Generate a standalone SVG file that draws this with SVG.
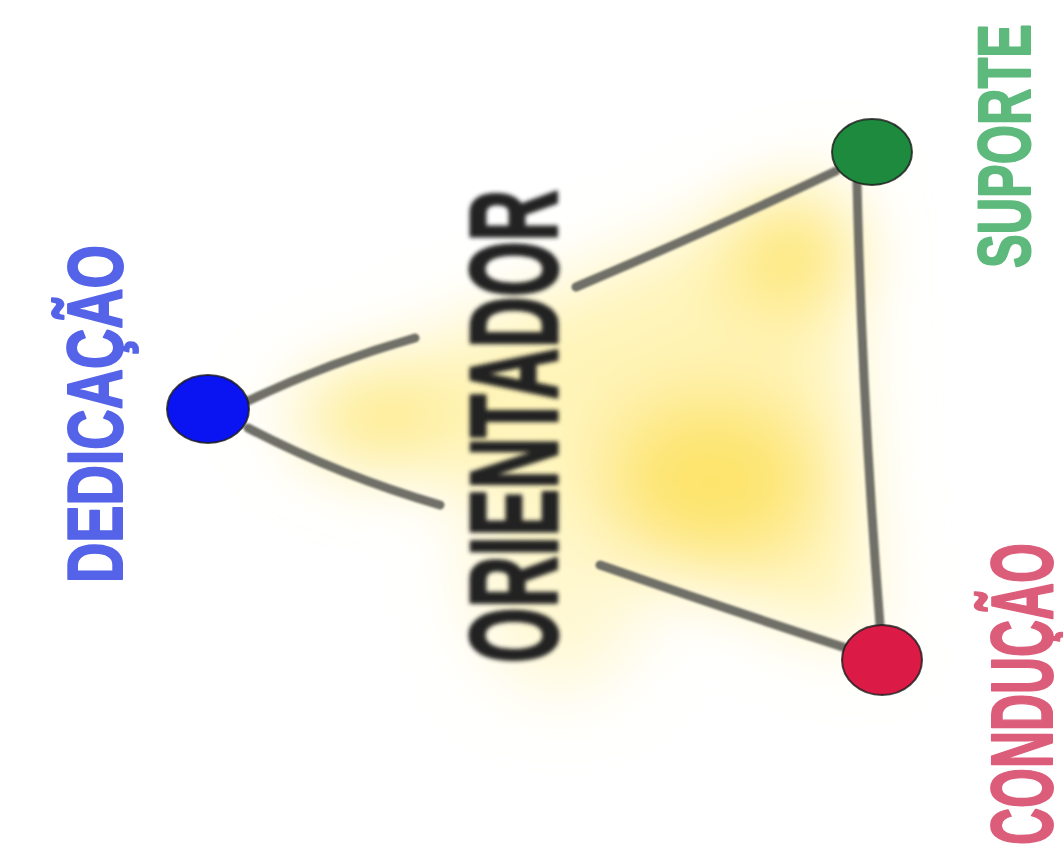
<svg xmlns="http://www.w3.org/2000/svg" width="1063" height="850" viewBox="0 0 1063 850">
  <defs>
    <filter id="glow" x="-50%" y="-50%" width="200%" height="200%">
      <feGaussianBlur stdDeviation="38"/>
    </filter>
    <filter id="soft" x="-30%" y="-30%" width="160%" height="160%">
      <feGaussianBlur stdDeviation="2.2"/>
    </filter>
    <filter id="lineSoft" x="-10%" y="-10%" width="120%" height="120%">
      <feGaussianBlur stdDeviation="0.8"/>
    </filter>
  </defs>
  <style>
    .edge { fill: none; stroke: #6f6f68; stroke-width: 9; stroke-linecap: round; }
    .lbl { font-family: "Liberation Sans", "DejaVu Sans", sans-serif; font-weight: bold; stroke-linejoin: round; stroke-linecap: round; }
    .node { stroke: #1a1a1a; stroke-width: 2; stroke-opacity: 0.8; }
  </style>
  <rect width="1063" height="850" fill="#ffffff"/>

  <g id="glow-area" filter="url(#glow)">
    <polygon points="270,410 840,175 870,650" fill="#fff3b0" opacity="0.9"/>
    <ellipse cx="560" cy="560" rx="90" ry="130" fill="#fff6c4" opacity="0.8"/>
    <ellipse cx="790" cy="255" rx="65" ry="55" fill="#fde468" opacity="0.9"/>
    <ellipse cx="710" cy="480" rx="110" ry="85" fill="#fde25e" opacity="0.85"/>
    <ellipse cx="375" cy="420" rx="70" ry="45" fill="#fde670" opacity="0.8"/>
  </g>

  <g id="connectors" filter="url(#lineSoft)">
    <path class="edge" d="M 248 401 Q 330 362 415 338"/>
    <path class="edge" d="M 576 287 Q 720 226 836 171"/>
    <path class="edge" d="M 248 428 Q 340 476 440 505"/>
    <path class="edge" d="M 600 565 Q 730 610 846 648"/>
    <path class="edge" d="M 857 183 Q 862 400 880 625"/>
  </g>

  <g id="node-dedicacao">
    <ellipse class="node" cx="208" cy="409" rx="41" ry="34" fill="#0a14f2"/>
    <text class="lbl" transform="translate(122,583) rotate(-90)" font-size="77" fill="#5463e8" stroke="#5463e8" stroke-width="2" textLength="338" lengthAdjust="spacingAndGlyphs">DEDICAÇÃO</text>
  </g>

  <g id="node-suporte">
    <ellipse class="node" cx="872" cy="152" rx="40" ry="33" fill="#1e8a3e"/>
    <text class="lbl" transform="translate(1030,268) rotate(-90)" font-size="74" fill="#5db97c" stroke="#5db97c" stroke-width="2" textLength="244" lengthAdjust="spacingAndGlyphs">SUPORTE</text>
  </g>

  <g id="node-conducao">
    <ellipse class="node" cx="882" cy="660" rx="40" ry="35" fill="#dc1a46"/>
    <text class="lbl" transform="translate(1052,845) rotate(-90)" font-size="88" fill="#dc5d7a" stroke="#dc5d7a" stroke-width="2" textLength="302" lengthAdjust="spacingAndGlyphs">CONDUÇÃO</text>
  </g>

  <g id="center-label" filter="url(#soft)">
    <text class="lbl" transform="translate(557,663) rotate(-90)" font-size="124" fill="#222222" stroke="#222222" stroke-width="3" textLength="473" lengthAdjust="spacingAndGlyphs">ORIENTADOR</text>
  </g>
</svg>
